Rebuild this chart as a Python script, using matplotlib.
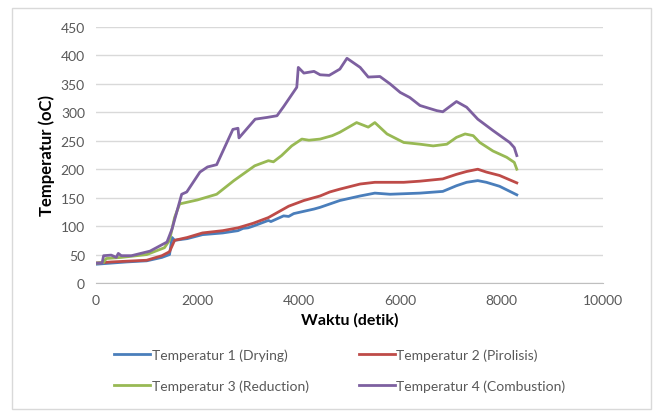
import matplotlib
matplotlib.use("Agg")
import matplotlib.pyplot as plt
from matplotlib.patches import Rectangle

plt.rcParams['font.family'] = ['Lato', 'DejaVu Sans']

# Time (s) and temperature (oC) readings
t1 = [0, 300, 600, 1000, 1300, 1450, 1500, 1550, 1800, 2100, 2500, 2800, 2900, 3000, 3100,
      3400, 3450, 3700, 3800, 3900, 4300, 4420, 4810, 5210, 5500, 5800, 6390, 6840, 7110,
      7310, 7530, 7700, 7960, 8300]
drying = [33, 35, 37, 39, 45, 50, 80, 75, 78, 85, 88, 92, 96, 97, 100,
          110, 108, 118, 117, 122, 130, 133, 145, 153, 158, 156, 158, 161, 171,
          177, 180, 177, 170, 155]

t2 = [0, 300, 1000, 1300, 1450, 1500, 1550, 1800, 2100, 2500, 2800, 3100, 3400, 3600, 3800,
      4100, 4420, 4610, 4810, 5210, 5500, 6070, 6390, 6840, 7110, 7310, 7530, 7700, 7960, 8300]
pirolisis = [35, 37, 40, 48, 55, 65, 75, 80, 88, 92, 97, 105, 115, 125, 135,
             145, 153, 160, 165, 174, 177, 177, 179, 183, 191, 196, 200, 195, 189, 176]

t3 = [0, 150, 200, 500, 1000, 1350, 1450, 1550, 1650, 2000, 2380, 2720, 3130, 3400, 3500,
      3660, 3860, 4060, 4200, 4420, 4660, 4810, 5140, 5370, 5500, 5740, 6070, 6390, 6650,
      6920, 7110, 7280, 7440, 7570, 7830, 8100, 8250, 8300]
reduction = [35, 36, 43, 45, 50, 62, 75, 115, 139, 146, 156, 180, 206, 215, 213,
             224, 241, 253, 251, 253, 259, 265, 282, 274, 282, 262, 247, 244, 241,
             244, 256, 262, 259, 247, 232, 221, 212, 200]

t4 = [0, 120, 150, 300, 400, 440, 500, 700, 1065, 1400, 1500, 1690, 1790, 2050, 2200, 2380,
      2700, 2800, 2820, 3140, 3370, 3570, 3700, 3960, 3990, 4100, 4300, 4420, 4600, 4810,
      4950, 5210, 5370, 5600, 5800, 6000, 6190, 6390, 6720, 6840, 7110, 7310, 7530, 7830,
      8160, 8250, 8300]
combustion = [35, 35, 48, 49, 45, 52, 48, 48, 56, 72, 95, 156, 160, 195, 204, 208,
              270, 272, 255, 288, 291, 294, 310, 344, 379, 369, 372, 366, 365, 376,
              395, 379, 362, 363, 350, 335, 326, 312, 303, 301, 319, 309, 288, 268,
              247, 238, 224]

series = [
    (t1, drying, 'Temperatur 1 (Drying)', '#4A7EBB'),
    (t2, pirolisis, 'Temperatur 2 (Pirolisis)', '#BE4B48'),
    (t3, reduction, 'Temperatur 3 (Reduction)', '#98B954'),
    (t4, combustion, 'Temperatur 4 (Combustion)', '#7D60A0'),
]

fig = plt.figure(figsize=(6.55, 4.14), dpi=100)
fig.patches.append(Rectangle((12/655, 1-410/414), 639/655, 401/414, transform=fig.transFigure,
                             fill=False, edgecolor='#d9d9d9', linewidth=1))
ax = fig.add_axes([96/655, 1-284/414, 507/655, 256/414])

for x, y, lab, c in series:
    ax.plot(x, y, color=c, lw=2, label=lab, solid_joinstyle='round')

ax.set_xlim(0, 10000)
ax.set_ylim(0, 450)
ax.set_xticks(range(0, 10001, 2000))
ax.set_yticks(range(0, 451, 50))
ax.grid(axis='y', color='#d9d9d9', lw=1)
ax.set_axisbelow(True)
for s in ['top', 'right', 'left']:
    ax.spines[s].set_visible(False)
ax.spines['bottom'].set_color('#bfbfbf')
ax.tick_params(length=0, labelsize=10, labelcolor='#595959', pad=8)
ax.set_xlabel('Waktu (detik)', fontsize=11.5, fontweight='bold', labelpad=4)
ax.set_ylabel('Temperatur (oC)', fontsize=12, fontweight='bold', labelpad=4)

handles, labels = ax.get_legend_handles_labels()
order = [0, 2, 1, 3]
fig.legend([handles[i] for i in order], [labels[i] for i in order], loc='center',
           bbox_to_anchor=(0.519, 1-371/414), ncol=2,
           frameon=False, fontsize=10, labelcolor='#595959', handlelength=2.6,
           handletextpad=0.1, columnspacing=3.6, labelspacing=1.35)

fig.savefig('out.png', dpi=100)
